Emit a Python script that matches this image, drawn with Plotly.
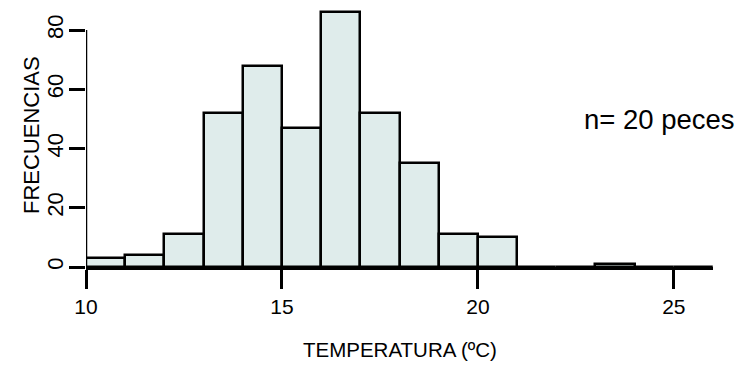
import plotly.graph_objects as go

# Histogram of fish body temperature (1 ºC bins)
bin_edges = list(range(10, 27))
frecuencias = [3, 4, 11, 52, 68, 47, 86, 52, 35, 11, 10, 0, 0, 1, 0, 0]
x_ticks = [10, 15, 20, 25]
y_ticks = [0, 20, 40, 60, 80]

centers = [(a + b) / 2 for a, b in zip(bin_edges[:-1], bin_edges[1:])]
widths = [b - a for a, b in zip(bin_edges[:-1], bin_edges[1:])]

SANS = "Liberation Sans, Arial, Helvetica, sans-serif"

fig = go.Figure(
    go.Bar(
        x=centers,
        y=frecuencias,
        width=widths,
        marker=dict(color="#dfeceb", line=dict(color="black", width=2.5)),
        hoverinfo="x+y",
    )
)

# y-axis spine only covers the labelled span 0..80
fig.add_shape(
    type="line", xref="x", yref="y",
    x0=bin_edges[0], x1=bin_edges[0], y0=y_ticks[0], y1=y_ticks[-1],
    line=dict(color="black", width=2.5),
)

fig.update_xaxes(
    range=[bin_edges[0], bin_edges[-1]],
    tickvals=x_ticks,
    ticks="outside", ticklen=19, tickwidth=2.5, tickcolor="black",
    showline=True, linecolor="black", linewidth=2.8,
    showgrid=False, zeroline=False,
    tickfont=dict(family=SANS, size=21, color="black"),
)
fig.update_yaxes(
    range=[0, 88.1],
    tickvals=y_ticks,
    ticks="outside", ticklen=16, tickwidth=2.5, tickcolor="black",
    tickangle=-90, ticklabelstandoff=-3,
    showline=False, showgrid=False, zeroline=False,
    tickfont=dict(family=SANS, size=22, color="black"),
)

fig.add_annotation(
    text="TEMPERATURA (ºC)", xref="paper", yref="paper",
    x=0.5, y=-0.318, showarrow=False, xanchor="center", yanchor="middle",
    font=dict(family=SANS, size=20.5, color="black"),
)
fig.add_annotation(
    text="FRECUENCIAS", xref="paper", yref="paper",
    x=-0.088, y=0.505, showarrow=False, textangle=-90,
    xanchor="center", yanchor="middle",
    font=dict(family=SANS, size=22, color="black"),
)
fig.add_annotation(
    text="n= 20 peces", xref="paper", yref="paper",
    x=0.915, y=0.567, showarrow=False, xanchor="center", yanchor="middle",
    font=dict(family=SANS, size=27.5, color="black"),
)

fig.update_layout(
    width=742, height=367,
    margin=dict(l=86, r=29, t=6, b=100),
    paper_bgcolor="white", plot_bgcolor="white",
    showlegend=False, bargap=0,
)

fig.write_html("out.html")
